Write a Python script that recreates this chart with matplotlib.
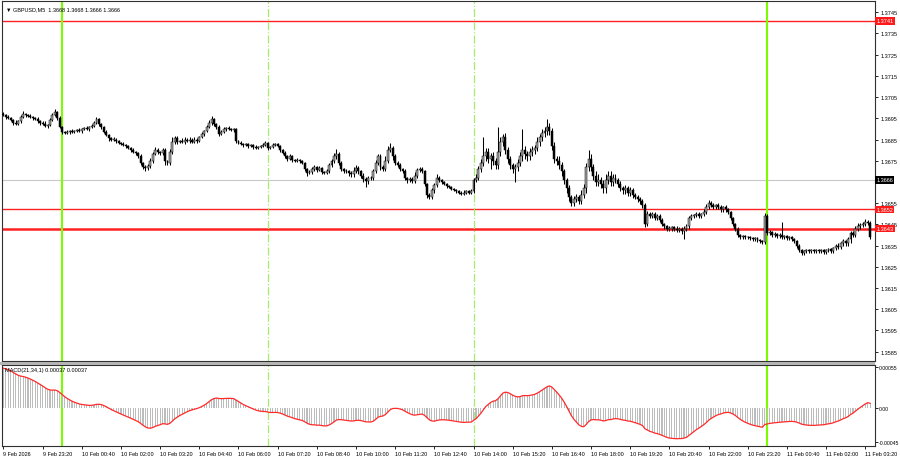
import numpy as np
import pandas as pd
import matplotlib
matplotlib.use('Agg')
import matplotlib.pyplot as plt
from matplotlib.patches import Rectangle

# GBPUSD M5 收盘价，单位：点（相对 1.3600），每行 10 根K线
close_pips = [
    96.5, 95.5, 95, 94, 93, 92.5, 93.5, 95.5, 97, 96.5,
    96, 95.5, 95, 94.5, 93.5, 93, 92.5, 91.5, 92, 94,
    96.5, 98, 95, 91, 88.5, 88, 88.5, 89, 88.5, 89,
    89.5, 89, 90, 90.5, 90, 91, 91.5, 93, 94.5, 92.5,
    91, 88.5, 87, 85.5, 85, 85, 84.5, 83.5, 83, 82.5,
    82, 81, 80, 79, 78.5, 77, 74, 72, 71.5, 72.5,
    75, 78, 80, 79, 78.5, 80, 75, 74, 79, 84,
    85.5, 84, 84.5, 84, 85, 84.5, 85, 84, 85, 84.5,
    86, 87.5, 89, 91, 93, 94.5, 92.5, 91, 87.5, 88.5,
    90, 90.5, 90, 89.5, 90, 84.5, 83.5, 83, 82.5, 83,
    82, 82.5, 81.5, 81, 81.5, 82, 82.5, 83.5, 81, 81.5,
    82.5, 83, 82, 80, 78.5, 77, 76, 77, 75.5, 75,
    75.5, 75, 74, 71, 69, 69.5, 71, 72, 70.5, 71.5,
    69.5, 69, 70, 73, 75, 77, 78, 74, 71, 70,
    70, 69, 68.5, 70, 71.5, 70, 68, 66.5, 65.5, 67,
    67, 70, 74, 77, 72, 71, 75, 80, 81, 77,
    74, 73, 71, 70, 67, 66, 66.5, 65.5, 68, 70.5,
    71, 70, 64, 59, 58, 61, 63.5, 67, 66, 65,
    64, 63, 62.5, 61.5, 61, 60.5, 60, 59.5, 60, 60.5,
    60, 60.5, 66, 67, 71, 74, 77, 79, 76, 77,
    75, 73, 79, 84, 86, 80, 76, 73, 71, 72,
    74, 77, 80, 78, 77, 79, 80, 81, 84, 86,
    88, 89, 91, 89, 82, 76, 75, 73, 70, 66,
    62, 58, 55, 57, 58, 56, 59, 62, 72, 76,
    72, 68, 65, 66, 64, 62, 66, 68, 65, 67,
    66, 64, 62, 61, 62, 60, 61, 59, 58, 57,
    56, 54, 45, 50, 49, 50, 48, 49, 47, 45,
    44, 43, 43, 43.5, 43, 42.5, 43, 42, 43, 44,
    48, 49, 49.5, 50, 49, 50, 51, 53, 55, 54,
    53, 54, 53, 52, 53, 52, 51, 48, 45, 43,
    40, 39, 39.5, 39, 39, 38.5, 38, 38.5, 37.5, 37,
    36.5, 49, 41, 41.5, 40, 40.5, 39.5, 40, 39, 39.5,
    38.5, 39, 38, 37, 35, 33, 31.5, 32.5, 33, 32.5,
    33, 32.5, 33, 32.5, 33, 32, 33, 33.5, 32.5, 34,
    35, 34.5, 36, 37, 36, 38, 41, 40, 43, 44,
    44.5, 45, 46, 45.5, 39,
]
first_open_pips = 97

# 上影线长度（点）
up_wick = [
    1, 0.5, 1, 0.5, 0.5, 1, 0.5, 1, 1.5, 0.5,
    0.5, 1, 0.5, 0.5, 1, 0.5, 0.5, 1, 0.5, 1,
    1, 1.5, 0.5, 1, 0.5, 0.5, 1, 0.5, 1, 0.5,
    0.5, 1, 0.5, 0.5, 1, 0.5, 1, 0.5, 1, 0.5,
    0.5, 0.5, 1, 0.5, 0.5, 1, 0.5, 0.5, 0.5, 1,
    0.5, 0.5, 0.5, 1, 0.5, 0.5, 1, 0.5, 1, 1,
    1.5, 1, 1.5, 1, 0.5, 1, 1, 0.5, 1.5, 2,
    1, 1, 0.5, 1, 1, 0.5, 1, 0.5, 1, 0.5,
    0.5, 1, 0.5, 1, 1, 1.5, 0.5, 0.5, 1, 1,
    1, 0.5, 1, 0.5, 0.5, 0.5, 0.5, 1, 0.5, 0.5,
    0.5, 0.5, 0.5, 1, 0.5, 0.5, 1, 1, 0.5, 0.5,
    1, 0.5, 0.5, 0.5, 0.5, 1, 0.5, 1, 0.5, 0.5,
    1, 0.5, 0.5, 0.5, 0.5, 1, 1, 1, 0.5, 1,
    0.5, 0.5, 1, 1, 1, 1.5, 2.5, 1, 1, 0.5,
    1, 0.5, 1, 2, 1.5, 1, 0.5, 1, 1, 1,
    1, 1, 1.5, 1, 1, 1, 2, 2, 2.5, 1,
    1, 1, 1, 0.5, 1, 0.5, 1, 1, 1.5, 1,
    1, 1, 0.5, 0.5, 1, 1, 1, 1.5, 1, 0.5,
    0.5, 0.5, 0.5, 0.5, 0.5, 0.5, 0.5, 0.5, 1, 0.5,
    0.5, 1, 1, 1.5, 1.5, 2, 9, 2, 2, 1.5,
    2, 1.5, 12, 2, 1.5, 2, 1.5, 1, 1, 1.5,
    2, 2, 10, 2, 1.5, 2, 2, 1.5, 2, 1.5,
    2, 2, 3.5, 2, 1.5, 2, 1, 2, 1.5, 1,
    1, 1.5, 1, 1.5, 1.5, 1, 2, 2, 2, 4,
    2, 1.5, 2, 2.5, 1.5, 2, 2.5, 2, 2, 1.5,
    1.5, 1, 1.5, 1, 1.5, 1, 1.5, 1, 1, 1,
    1, 1, 1, 1.5, 1, 1, 1, 1, 1, 1,
    0.5, 0.5, 1, 0.5, 0.5, 1, 0.5, 0.5, 1, 1,
    1, 1, 0.5, 1, 1, 0.5, 1, 1.5, 1.5, 1,
    1, 0.5, 1, 1, 0.5, 1, 0.5, 0.5, 0.5, 0.5,
    0.5, 0.5, 0.5, 0.5, 0.5, 0.5, 0.5, 0.5, 0.5, 0.5,
    0.5, 1.5, 1, 1, 0.5, 1, 0.5, 1, 6, 0.5,
    0.5, 0.5, 0.5, 0.5, 0.5, 0.5, 0.5, 0.5, 0.5, 0.5,
    0.5, 0.5, 0.5, 0.5, 0.5, 0.5, 0.5, 0.5, 0.5, 0.5,
    0.5, 1, 0.5, 1, 0.5, 1, 1, 1, 1, 1.5,
    1, 1, 1.5, 1, 1,
]

# 下影线长度（点）
low_wick = [
    0.5, 1, 0.5, 0.5, 1, 0.5, 0.5, 0.5, 0.5, 1,
    0.5, 0.5, 1, 0.5, 0.5, 1, 0.5, 0.5, 1, 0.5,
    0.5, 0.5, 1, 0.5, 1, 0.5, 0.5, 1, 0.5, 0.5,
    0.5, 0.5, 1, 0.5, 0.5, 1, 0.5, 0.5, 0.5, 1,
    1, 0.5, 0.5, 1, 0.5, 0.5, 1, 0.5, 0.5, 0.5,
    1, 0.5, 1, 0.5, 1, 0.5, 1, 1, 1.5, 1,
    1, 1, 0.5, 1, 1, 1, 2, 1, 1, 1,
    1, 1, 0.5, 0.5, 1, 0.5, 1, 0.5, 0.5, 1,
    0.5, 0.5, 1, 0.5, 0.5, 1, 1, 1, 1, 0.5,
    0.5, 1, 0.5, 0.5, 1, 1, 0.5, 0.5, 1, 0.5,
    1, 0.5, 1, 0.5, 0.5, 0.5, 0.5, 0.5, 1, 0.5,
    0.5, 0.5, 0.5, 1, 0.5, 0.5, 1, 0.5, 1, 0.5,
    0.5, 1, 0.5, 1, 1, 0.5, 1, 1, 1, 0.5,
    1, 0.5, 0.5, 1, 1, 1, 1, 1, 1, 1,
    1, 1, 1, 1, 1, 1.5, 1, 1.5, 3, 1.5,
    1, 1, 1, 1, 1.5, 1, 1, 1, 1, 1.5,
    1, 1, 1, 1, 1, 1.5, 1, 1, 1, 1,
    1, 1, 1, 1.5, 1, 1, 1, 1, 1, 1,
    0.5, 1, 0.5, 0.5, 0.5, 0.5, 0.5, 0.5, 0.5, 0.5,
    0.5, 0.5, 0.5, 1, 1, 1.5, 1.5, 2, 2, 5,
    2, 2, 2, 2, 2, 2, 2, 2, 2, 6,
    2, 1.5, 2, 2, 2, 1.5, 2, 2, 1.5, 2,
    1.5, 2, 2, 2, 2, 2, 2, 2, 2, 2,
    2, 2, 1.5, 1.5, 1.5, 1.5, 1.5, 1.5, 2, 2,
    2, 2, 2, 2, 2, 2, 2, 2, 2, 2,
    1.5, 1.5, 1.5, 1.5, 1.5, 1.5, 1.5, 1.5, 1, 1.5,
    1.5, 1.5, 1.5, 1, 1, 1, 1, 1, 1, 1,
    1, 1, 1, 1, 1, 1, 1, 1.5, 4, 1,
    1, 1, 1, 1, 1, 1, 1, 1, 1, 1,
    1, 1, 1, 1, 1, 1, 1, 1, 1, 1,
    1, 1, 1, 1, 1, 1, 1, 1, 1, 1,
    1, 1, 1, 1, 1, 1, 1, 1, 1, 1,
    1, 1, 1, 1, 1, 1, 1, 1, 1, 1,
    1, 1, 1, 1, 1, 1, 1, 1, 1, 1,
    1, 1, 1, 1, 1, 1, 2, 1, 1, 1,
    1, 1, 1, 1, 1,
]

start_time = '2026-02-09 22:00'
symbol = 'GBPUSD,M5'
last_ohlc = [1.3668, 1.3668, 1.3666, 1.3666]
bid_price = 1.3666
red_levels = [1.3741, 1.3652, 1.3643]
red_widths = [1.0, 1.0, 1.8]
solid_vlines = ['2026-02-10 00:00', '2026-02-11 00:00']
dash_vlines = ['2026-02-10 07:00', '2026-02-10 14:00']
price_ticks = [1.3745, 1.3735, 1.3725, 1.3715, 1.3705, 1.3695, 1.3685, 1.3675,
               1.3655, 1.3645, 1.3635, 1.3625, 1.3615, 1.3605, 1.3595, 1.3585]
macd_ticks = [0.00055, 0.0, -0.00045]
macd_tick_labels = ['0.00055', '0.00', '-0.00045']
macd_last = 0.00037
# MACD(21,34) 图表起点之前的 EMA 初值
ema_fast_seed = 1.36882
ema_slow_seed = 1.36828


def ema(values, period, seed):
    k = 2.0 / (period + 1)
    out = []
    e = seed
    for v in values:
        e = e + k * (v - e)
        out.append(e)
    return np.array(out)


plt.rcParams['font.family'] = ['Liberation Sans', 'DejaVu Sans']
FS = 4.0

n = len(close_pips)
idx = np.arange(n)
times = pd.date_range(start_time, periods=n, freq='5min')
close = 1.36 + np.array(close_pips) / 10000
open_ = np.r_[1.36 + first_open_pips / 10000, close[:-1]]
high = np.maximum(open_, close) + np.array(up_wick) / 10000
low = np.minimum(open_, close) - np.array(low_wick) / 10000
macd = ema(close, 21, ema_fast_seed) - ema(close, 34, ema_slow_seed)

W, H = 900, 460
fig = plt.figure(figsize=(W / 100, H / 100), dpi=100)
ax = fig.add_axes([2 / W, (H - 362) / H, 873 / W, 360 / H])
axm = fig.add_axes([2 / W, (H - 447) / H, 873 / W, 81 / H], sharex=ax)
fig.add_artist(Rectangle((0, (H - 365.5) / H), 875 / W, 3 / H, transform=fig.transFigure,
                         facecolor='#b4b4b4', edgecolor='none'))

# 水平线、竖线
ax.axhline(bid_price, color='#c8c8c8', lw=0.8, zorder=1)
for lvl, lw in zip(red_levels, red_widths):
    ax.axhline(lvl, color='#ff2020', lw=lw, zorder=1)
for t in solid_vlines:
    i = times.get_loc(pd.Timestamp(t))
    for a in (ax, axm):
        a.axvline(i, color='#7cfc00', lw=1.5, zorder=1)
for t in dash_vlines:
    i = times.get_loc(pd.Timestamp(t))
    for a in (ax, axm):
        a.axvline(i, color='#a4ee6c', lw=0.9, ls='-.', zorder=1)

# K线
up = close >= open_
ax.vlines(idx, low, high, color='black', lw=0.75, zorder=2)
body = np.abs(close - open_)
body = np.maximum(body, 0.000005)
ax.bar(idx[up], body[up], bottom=open_[up], width=0.8, color='#a8a8a8',
       edgecolor='black', linewidth=0.35, zorder=3)
ax.bar(idx[~up], body[~up], bottom=close[~up], width=0.8, color='black',
       edgecolor='black', linewidth=0.35, zorder=3)

ax.set_xlim(-0.6, 356)
ax.set_ylim(1.358052, 1.375033)
ax.yaxis.tick_right()
ax.set_yticks(price_ticks)
ax.set_yticklabels([f'{p:.4f}' for p in price_ticks])
ax.tick_params(axis='y', labelsize=FS, length=2.5, width=0.6, pad=1.2)
ax.tick_params(axis='x', bottom=False, labelbottom=False)

trans = ax.get_yaxis_transform()
for lvl in red_levels:
    ax.text(1.0015, lvl, f'{lvl:.4f}', transform=trans, ha='left', va='center', fontsize=FS,
            color='white', zorder=10, clip_on=False,
            bbox=dict(facecolor='#ff1a1a', edgecolor='none', pad=1.0))
ax.text(1.0015, bid_price, f'{bid_price:.4f}', transform=trans, ha='left', va='center',
        fontsize=FS, color='white', zorder=10, clip_on=False,
        bbox=dict(facecolor='black', edgecolor='none', pad=1.0))

ax.text(0.005, 0.985, '\u25bc ' + symbol + '  ' + ' '.join(f'{v:.4f}' for v in last_ohlc),
        transform=ax.transAxes, ha='left', va='top', fontsize=FS)

# MACD
axm.bar(idx, macd, width=0.45, color='#bcbcbc', zorder=2)
axm.plot(idx, macd, color='#ff2a2a', lw=0.9, zorder=3)
axm.set_ylim(-0.000508, 0.000581)
axm.yaxis.tick_right()
axm.set_yticks(macd_ticks)
axm.set_yticklabels(macd_tick_labels)
axm.tick_params(axis='y', labelsize=3.7, length=2, width=0.6, pad=0.8)
axm.text(0.004, 0.97, f'MACD(21,34,1) {macd_last:.5f} {macd_last:.5f}',
         transform=axm.transAxes, ha='left', va='top', fontsize=FS)

tick_pos = idx[::16]
labels = []
for k, i in enumerate(tick_pos):
    d = times[i]
    if k == 0:
        labels.append(f'{d.day} {d:%b} {d.year}')
    else:
        labels.append(f'{d.day} {d:%b} {d:%H:%M}')
axm.set_xticks(tick_pos)
axm.set_xticklabels(labels, ha='left')
axm.tick_params(axis='x', labelsize=FS, length=2.5, width=0.6, pad=1)

for a in (ax, axm):
    for s in a.spines.values():
        s.set_color('#303030')
        s.set_linewidth(0.8)

fig.savefig('out.png', dpi=100, facecolor='white')
